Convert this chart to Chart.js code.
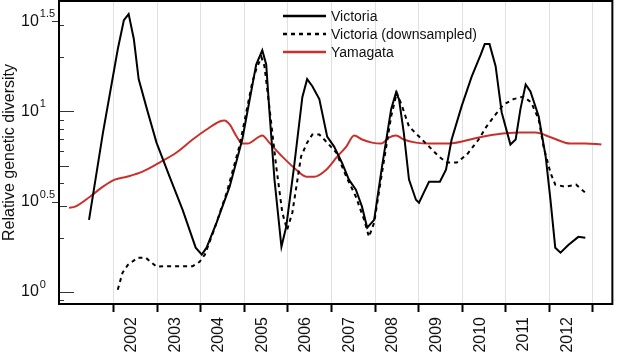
<!DOCTYPE html>
<html>
<head>
<meta charset="utf-8">
<script src="https://cdn.jsdelivr.net/npm/chart.js@4.4.0/dist/chart.umd.min.js"></script>
<style>
  html, body { margin: 0; padding: 0; background: #fff; }
</style>
</head>
<body>
<canvas id="chart" width="617" height="352"></canvas>
<script>
// values (x = decimal year, y = relative diversity)
const victoriaYears = [2001.43, 2001.75, 2002.09, 2002.23, 2002.34, 2002.46, 2002.57, 2002.76, 2002.98, 2003.28,
  2003.58, 2003.88, 2004.02, 2004.13, 2004.36, 2004.66, 2004.95, 2005.27, 2005.41, 2005.50,
  2005.57, 2005.69, 2005.85, 2005.96, 2006.14, 2006.33, 2006.44, 2006.56, 2006.72, 2006.90,
  2007.06, 2007.24, 2007.40, 2007.56, 2007.70, 2007.82, 2007.98, 2008.16, 2008.37, 2008.48,
  2008.55, 2008.66, 2008.78, 2008.94, 2009.01, 2009.12, 2009.24, 2009.49, 2009.63, 2009.76,
  2009.99, 2010.22, 2010.43, 2010.52, 2010.63, 2010.77, 2010.91, 2011.11, 2011.23, 2011.34,
  2011.46, 2011.57, 2011.76, 2011.92, 2012.03, 2012.14, 2012.26, 2012.44, 2012.67, 2012.83];
const victoriaValues = [2.51, 7.64, 22.1, 32.0, 34.6, 25.1, 15.1, 10.3, 6.72, 4.35,
  2.85, 1.76, 1.61, 1.76, 2.42, 3.83, 6.99, 18.2, 21.8, 18.2,
  10.3, 4.19, 1.78, 2.30, 4.95, 12.0, 15.1, 13.8, 11.7, 7.26,
  6.39, 5.2, 4.19, 3.69, 2.97, 2.27, 2.51, 4.95, 10.3, 12.7,
  11.7, 7.64, 4.19, 3.24, 3.12, 3.55, 4.08, 4.08, 4.76, 6.99,
  10.7, 15.6, 20.7, 23.6, 23.6, 17.8, 9.87, 6.56, 6.99, 10.3,
  14.1, 12.9, 9.38, 5.62, 3.24, 1.76, 1.65, 1.82, 2.02, 2.0];

const downYears = [2002.09, 2002.20, 2002.32, 2002.55, 2002.73, 2002.98, 2003.21, 2003.81, 2003.97, 2004.09,
  2004.30, 2004.60, 2004.89, 2005.18, 2005.27, 2005.39, 2005.46, 2005.57, 2005.73, 2005.87,
  2005.98, 2006.10, 2006.30, 2006.44, 2006.56, 2006.72, 2006.90, 2007.11, 2007.34, 2007.56,
  2007.75, 2007.86, 2007.98, 2008.16, 2008.37, 2008.50, 2008.62, 2008.78, 2009.01, 2009.24,
  2009.47, 2009.65, 2009.88, 2010.11, 2010.38, 2010.56, 2010.77, 2010.95, 2011.18, 2011.41,
  2011.59, 2011.76, 2011.87, 2012.03, 2012.14, 2012.37, 2012.62, 2012.83];
const downValues = [1.03, 1.28, 1.41, 1.55, 1.55, 1.38, 1.39, 1.39, 1.47, 1.61,
  2.2, 3.6, 6.5, 14.5, 17.1, 20.0, 17.8, 10.7, 4.95, 2.75,
  2.21, 2.75, 5.62, 6.72, 7.45, 7.45, 6.72, 5.92, 4.35, 3.37,
  2.51, 2.02, 2.42, 4.58, 9.38, 12.7, 10.7, 8.25, 7.26, 6.39,
  5.62, 5.21, 5.21, 5.77, 6.99, 8.25, 9.62, 10.9, 11.7, 12.1,
  11.2, 9.03, 6.39, 4.58, 3.93, 3.83, 3.93, 3.55];

const yamagataYears = [2000.97, 2001.11, 2001.45, 2001.75, 2002.02, 2002.30, 2002.66, 2003.05, 2003.44, 2003.81,
  2004.13, 2004.43, 2004.54, 2004.66, 2004.82, 2004.95, 2005.07, 2005.34, 2005.41, 2005.57,
  2005.87, 2006.19, 2006.42, 2006.60, 2006.88, 2007.13, 2007.34, 2007.52, 2007.70, 2007.93,
  2008.14, 2008.32, 2008.48, 2008.66, 2008.94, 2009.24, 2009.69, 2010.38, 2010.77, 2011.30,
  2011.69, 2012.05, 2012.49, 2012.83, 2013.20];
const yamagataValues = [2.93, 2.97, 3.37, 3.83, 4.19, 4.35, 4.64, 5.21, 5.92, 6.99,
  7.94, 8.80, 8.91, 8.47, 7.26, 6.64, 6.64, 7.26, 7.36, 6.72,
  5.62, 4.76, 4.35, 4.35, 4.76, 5.62, 6.39, 7.36, 6.99, 6.72,
  6.64, 7.17, 7.36, 6.99, 6.72, 6.64, 6.64, 7.17, 7.45, 7.64,
  7.64, 7.17, 6.64, 6.64, 6.56];

const tickYears = [2002, 2003, 2004, 2005, 2006, 2007, 2008, 2009, 2010, 2011, 2012, 2013];
const yLabelExps = ['0', '0.5', '1', '1.5'];
const yMinorTicks = [0.9, 2, 3, 4, 5, 6, 7, 8, 9, 20, 30];

const FONT = '"Liberation Sans", Arial, Helvetica, sans-serif';
const RED = '#c9302c';

function pts(xs, ys) {
  return xs.map((x, i) => ({ x: x, y: ys[i] }));
}

// frame, inner y ticks, y labels with superscripts, legend
const decorPlugin = {
  id: 'decor',
  afterDraw(chart) {
    const ctx = chart.ctx;
    const a = chart.chartArea;
    const y = chart.scales.y;
    ctx.save();

    ctx.strokeStyle = '#333';
    ctx.lineWidth = 1;
    const tick = (v, x0, x1) => {
      const py = Math.round(y.getPixelForValue(v)) + 0.5;
      ctx.beginPath(); ctx.moveTo(x0, py); ctx.lineTo(x1, py); ctx.stroke();
    };
    tick(1, a.left, a.left + 15);
    tick(10, a.left, a.left + 15);
    yMinorTicks.forEach(v => {
      let len = 5;
      if (v === 5) len = 10;
      if (v === 3) len = 8;
      tick(v, a.left, a.left + len);
    });
    tick(Math.pow(10, 0.5), a.left - 7, a.left);
    tick(Math.pow(10, 1.5), a.left - 7, a.left);

    // y labels
    ctx.fillStyle = '#111';
    ctx.textBaseline = 'middle';
    ctx.textAlign = 'left';
    yLabelExps.forEach(e => {
      const py = y.getPixelForValue(Math.pow(10, parseFloat(e)));
      ctx.font = '16px ' + FONT;
      ctx.fillText('10', 21, py);
      const w = ctx.measureText('10').width;
      ctx.font = '11px ' + FONT;
      ctx.fillText(e, 21 + w + 1, py - 7);
    });

    // frame
    ctx.strokeStyle = '#000';
    ctx.lineWidth = 2;
    ctx.strokeRect(a.left, a.top, a.right - a.left, a.bottom - a.top);

    // legend
    const rows = [16, 34, 52];
    chart.data.datasets.forEach((ds, i) => {
      ctx.strokeStyle = ds.borderColor;
      ctx.lineWidth = 2.5;
      ctx.setLineDash(ds.borderDash || []);
      ctx.beginPath();
      ctx.moveTo(283, rows[i]);
      ctx.lineTo(326, rows[i]);
      ctx.stroke();
      ctx.setLineDash([]);
      ctx.fillStyle = '#111';
      ctx.font = '14px ' + FONT;
      ctx.fillText(ds.label, 331, rows[i] + 1);
    });
    ctx.restore();
  }
};

new Chart(document.getElementById('chart'), {
  type: 'line',
  data: {
    datasets: [
      {
        label: 'Victoria',
        data: pts(victoriaYears, victoriaValues),
        borderColor: '#000',
        borderWidth: 2,
        pointRadius: 0,
        tension: 0
      },
      {
        label: 'Victoria (downsampled)',
        data: pts(downYears, downValues),
        borderColor: '#000',
        borderWidth: 2,
        borderDash: [4, 4],
        pointRadius: 0,
        tension: 0
      },
      {
        label: 'Yamagata',
        data: pts(yamagataYears, yamagataValues),
        borderColor: RED,
        borderWidth: 2,
        pointRadius: 0,
        cubicInterpolationMode: 'monotone'
      }
    ]
  },
  options: {
    responsive: false,
    animation: false,
    devicePixelRatio: 1,
    layout: { padding: { top: 1, right: 3, left: 0, bottom: 0 } },
    plugins: {
      legend: { display: false },
      tooltip: { enabled: false }
    },
    scales: {
      x: {
        type: 'linear',
        bounds: 'data',
        min: 2000.74,
        max: 2013.452,
        afterBuildTicks: s => { s.ticks = tickYears.map(v => ({ value: v })); },
        afterFit: s => { s.height = 48; },
        border: { display: false },
        grid: {
          color: '#e0e0e0',
          lineWidth: 1,
          drawTicks: true,
          tickLength: 8,
          tickColor: '#000',
          tickWidth: 2
        },
        ticks: {
          autoSkip: false,
          minRotation: 90,
          maxRotation: 90,
          labelOffset: 18,
          padding: 5,
          color: '#111',
          font: { size: 16, family: FONT },
          callback: v => (v < tickYears[tickYears.length - 1] ? String(v) : '')
        }
      },
      y: {
        type: 'logarithmic',
        bounds: 'data',
        min: 0.858,
        max: 40.9,
        afterBuildTicks: s => { s.ticks = yLabelExps.map(e => ({ value: Math.pow(10, parseFloat(e)) })); },
        afterFit: s => { s.width = 59; },
        border: { display: false },
        grid: { display: false },
        ticks: { display: false },
        title: {
          display: true,
          text: 'Relative genetic diversity',
          color: '#111',
          font: { size: 16, family: FONT },
          padding: 0
        }
      }
    }
  },
  plugins: [decorPlugin]
});
</script>
</body>
</html>
